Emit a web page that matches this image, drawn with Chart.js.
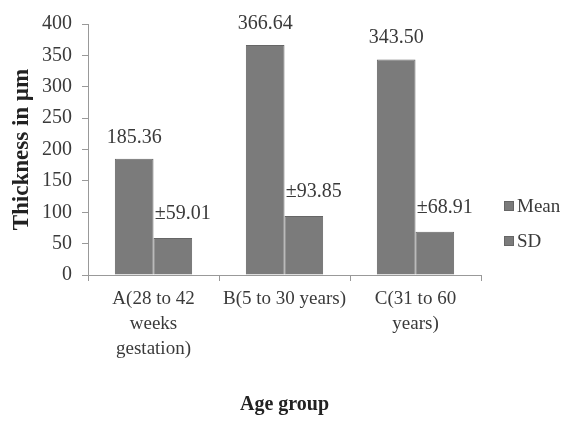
<!DOCTYPE html>
<html lang="en">
<head>
    <title>Thickness by age group</title>
    <script src="https://cdn.jsdelivr.net/npm/chart.js"></script>
    <style>
        body { margin: 0; padding: 0; background: #fff; }
        .wrap { width: 568px; height: 427px; }
    </style>
</head>
<body>
    <div class="wrap"><canvas id="thickChart" width="568" height="427"></canvas></div>
    <script>
        const categories = [
            ["A(28 to 42", "weeks", "gestation)"],
            ["B(5 to 30 years)"],
            ["C(31 to 60", "years)"]
        ];
        const meanValues = [185.36, 366.64, 343.50];
        const sdValues = [59.01, 93.85, 68.91];
        const meanLabels = ["185.36", "366.64", "343.50"];
        const sdLabels = ["\u00b159.01", "\u00b193.85", "\u00b168.91"];
        const yTicks = [0, 50, 100, 150, 200, 250, 300, 350, 400];

        const serif = "'Liberation Serif', 'Times New Roman', serif";
        const barGrey = "#7b7b7b";
        const textCol = "#3a3a3a";

        // value labels above the bars + legend on the right
        const extras = {
            id: "extras",
            afterDatasetsDraw(chart) {
                const ctx = chart.ctx;
                ctx.save();
                ctx.font = "20px " + serif;
                ctx.fillStyle = textCol;
                ctx.textAlign = "center";
                ctx.textBaseline = "alphabetic";
                chart.getDatasetMeta(0).data.forEach((bar, i) => {
                    ctx.fillText(meanLabels[i], bar.x, bar.y - 16);
                });
                chart.getDatasetMeta(1).data.forEach((bar, i) => {
                    ctx.fillText(sdLabels[i], bar.x + 10, bar.y - 19);
                });

                // legend
                const items = [["Mean", barGrey], ["SD", barGrey]];
                ctx.textAlign = "left";
                ctx.textBaseline = "middle";
                ctx.font = "19px " + serif;
                items.forEach((it, k) => {
                    const y = 206 + k * 35;
                    ctx.fillStyle = it[1];
                    ctx.fillRect(504, y - 5, 10, 10);
                    ctx.strokeStyle = "#666";
                    ctx.lineWidth = 1;
                    ctx.strokeRect(504.5, y - 4.5, 9, 9);
                    ctx.fillStyle = textCol;
                    ctx.fillText(it[0], 517, y + 1);
                });
                ctx.restore();
            }
        };

        new Chart(document.getElementById("thickChart"), {
            type: "bar",
            data: {
                labels: categories,
                datasets: [
                    { label: "Mean", data: meanValues, backgroundColor: barGrey, borderColor: "#666", borderWidth: 1 },
                    { label: "SD", data: sdValues, backgroundColor: barGrey, borderColor: "#666", borderWidth: 1 }
                ]
            },
            options: {
                responsive: false,
                animation: false,
                devicePixelRatio: 1,
                layout: { padding: { top: 24, right: 87, bottom: 0, left: 0 } },
                datasets: { bar: { categoryPercentage: 0.59, barPercentage: 1.0 } },
                plugins: {
                    legend: { display: false },
                    tooltip: { enabled: false }
                },
                scales: {
                    x: {
                        afterFit: s => { s.height = 152; },
                        grid: { drawOnChartArea: false, offset: true, tickLength: 6, color: "#999" },
                        border: { color: "#999" },
                        ticks: {
                            maxRotation: 0,
                            autoSkip: false,
                            padding: 6,
                            color: textCol,
                            font: { family: serif, size: 19, lineHeight: 1.3 }
                        },
                        title: {
                            display: true,
                            text: "Age group",
                            color: "#222",
                            padding: { top: 0, bottom: 10 },
                            font: { family: serif, size: 20, weight: "bold" }
                        }
                    },
                    y: {
                        min: 0,
                        max: 400,
                        afterFit: s => { s.width = 88; },
                        afterBuildTicks: s => { s.ticks = yTicks.map(v => ({ value: v })); },
                        grid: { drawOnChartArea: false, tickLength: 6, color: "#999" },
                        border: { color: "#999" },
                        ticks: {
                            padding: 10,
                            color: textCol,
                            font: { family: serif, size: 20 }
                        },
                        title: {
                            display: true,
                            text: "Thickness in \u00b5m",
                            color: "#222",
                            padding: { top: 8, bottom: 0 },
                            font: { family: serif, size: 23, weight: "bold" }
                        }
                    }
                }
            },
            plugins: [extras]
        });
    </script>
</body>
</html>
